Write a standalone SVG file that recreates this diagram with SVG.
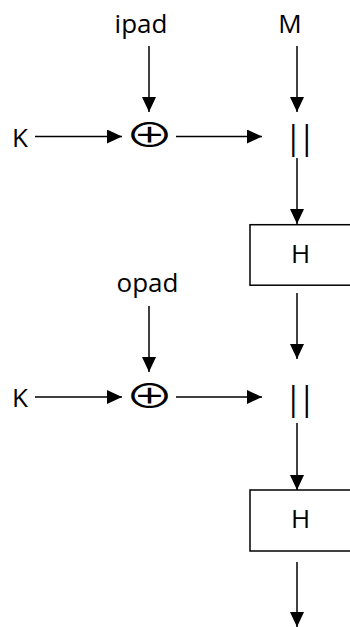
<svg xmlns="http://www.w3.org/2000/svg" width="350" height="627" viewBox="0 0 350 627">
<style>
.t{font-family:"Open Sans","Liberation Sans",sans-serif;font-size:26px;fill:#000}
.p{font-family:"Open Sans","Liberation Sans",sans-serif;font-size:32px;fill:#000;letter-spacing:-4px}
.x{font-family:"Noto Sans CJK JP","DejaVu Sans",sans-serif;font-size:33px;fill:#000}
.c{stroke:#000;stroke-width:1.5;fill:none;marker-end:url(#ah)}
.b{fill:#fff;stroke:#000;stroke-width:1.5}
</style>
<defs>
<marker id="ah" markerUnits="userSpaceOnUse" markerWidth="16" markerHeight="16" refX="15" refY="7" orient="auto">
<path d="M0,0 L15,7 L0,14 z" fill="#000"/>
</marker>
</defs>
<rect width="350" height="627" fill="#fff"/>
<g id="connectors">
<line class="c" x1="149" y1="46" x2="149" y2="112"/>
<line class="c" x1="297" y1="46" x2="297" y2="112"/>
<line class="c" x1="35" y1="136.5" x2="122" y2="136.5"/>
<line class="c" x1="176" y1="136.5" x2="262" y2="136.5"/>
<line class="c" x1="297" y1="158" x2="297" y2="224"/>
<line class="c" x1="297" y1="293" x2="297" y2="359"/>
<line class="c" x1="149" y1="306" x2="149" y2="372"/>
<line class="c" x1="35" y1="397" x2="122" y2="397"/>
<line class="c" x1="176" y1="397" x2="262" y2="397"/>
<line class="c" x1="297" y1="423" x2="297" y2="490"/>
<line class="c" x1="297" y1="562" x2="297" y2="627"/>
</g>
<g id="ipad"><text class="t" x="141" y="33" text-anchor="middle">ipad</text></g>
<g id="M"><text class="t" x="290" y="33" text-anchor="middle">M</text></g>
<g id="K1"><text class="t" x="20" y="146.5" text-anchor="middle">K</text></g>
<g id="xor1"><text class="x" transform="translate(149.5,147) scale(1.5,1)" text-anchor="middle">⊕</text></g>
<g id="concat1"><text class="p" x="298" y="149" text-anchor="middle">||</text></g>
<g id="H1"><rect class="b" x="250" y="224.7" width="120" height="60.5"/><text class="t" x="300.5" y="263" text-anchor="middle">H</text></g>
<g id="opad"><text class="t" x="147.5" y="292" text-anchor="middle">opad</text></g>
<g id="K2"><text class="t" x="20" y="407" text-anchor="middle">K</text></g>
<g id="xor2"><text class="x" transform="translate(149.5,408) scale(1.5,1)" text-anchor="middle">⊕</text></g>
<g id="concat2"><text class="p" x="298" y="409.5" text-anchor="middle">||</text></g>
<g id="H2"><rect class="b" x="250" y="490" width="120" height="61"/><text class="t" x="300.5" y="528" text-anchor="middle">H</text></g>
</svg>
